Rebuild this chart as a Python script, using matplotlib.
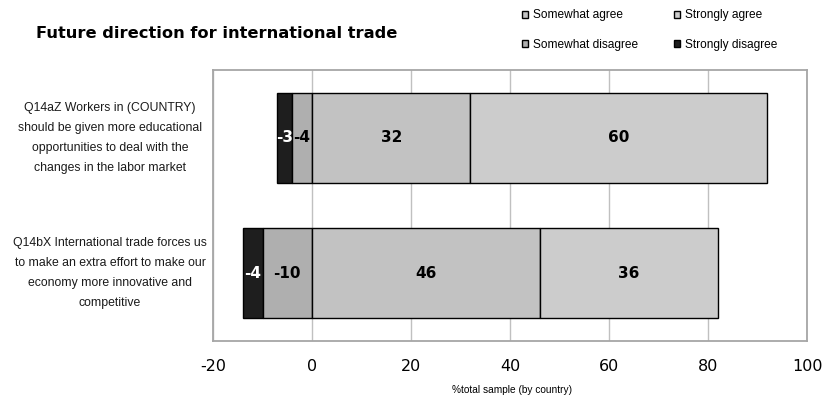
import matplotlib
matplotlib.use("Agg")
import matplotlib.pyplot as plt
from matplotlib.patches import Patch
from matplotlib import font_manager as fm

plt.rcParams['axes.unicode_minus'] = False

# ---- data ----
questions = [
    "Q14aZ Workers in (COUNTRY)\nshould be given more educational\nopportunities to deal with the\nchanges in the labor market",
    "Q14bX International trade forces us\nto make an extra effort to make our\neconomy more innovative and\ncompetitive",
]
strongly_disagree = [-3, -4]
somewhat_disagree = [-4, -10]
somewhat_agree = [32, 46]
strongly_agree = [60, 36]
series_names = ["Somewhat agree", "Strongly agree", "Somewhat disagree", "Strongly disagree"]
x_ticks = [-20, 0, 20, 40, 60, 80, 100]

title = "Future direction for international trade"
xlabel = "%total sample (by country)"

# ---- fonts ----
names = {f.name for f in fm.fontManager.ttflist}
if "Liberation Sans Narrow" in names:
    narrow = "Liberation Sans Narrow"
    nscale = 1.0
else:
    narrow = "Liberation Sans"
    nscale = 0.86

c_sd = "#1e1e1e"
c_swd = "#afafaf"
c_sa = "#c2c2c2"
c_sta = "#cccccc"

fig = plt.figure(figsize=(8.24, 4.04), dpi=100)
ax = fig.add_axes([213/824, 1-341/404, 594/824, 271/404])

ypos = [1, 0]
h = 0.667
for i, y in enumerate(ypos):
    sd, swd, sa, sta = strongly_disagree[i], somewhat_disagree[i], somewhat_agree[i], strongly_agree[i]
    ax.barh(y, -sd, left=swd + sd, height=h, color=c_sd, edgecolor="black", linewidth=1.0, zorder=3)
    ax.barh(y, -swd, left=swd, height=h, color=c_swd, edgecolor="black", linewidth=1.0, zorder=3)
    ax.barh(y, sa, left=0, height=h, color=c_sa, edgecolor="black", linewidth=1.0, zorder=3)
    ax.barh(y, sta, left=sa, height=h, color=c_sta, edgecolor="black", linewidth=1.0, zorder=3)
    lab = dict(ha="center", va="center", fontsize=11, fontweight="bold", family="DejaVu Sans", zorder=5)
    ax.text(swd + sd / 2, y, f"{sd}", color="white", **lab)
    ax.text(swd / 2, y, f"{swd}", color="black", **lab)
    ax.text(sa / 2, y, f"{sa}", color="black", **lab)
    ax.text(sa + sta / 2, y, f"{sta}", color="black", **lab)

ax.set_xlim(-20, 100)
ax.set_ylim(-0.5, 1.5)
ax.set_xticks(x_ticks)
ax.set_xticklabels([str(t) for t in x_ticks], fontsize=11.5, family="DejaVu Sans")
ax.tick_params(axis="x", length=0, pad=13)
ax.set_yticks([])
ax.grid(axis="x", color="#c0c0c0", linewidth=1.0, zorder=0)
ax.set_axisbelow(True)
for s in ax.spines.values():
    s.set_color("#a6a6a6")
    s.set_linewidth(1.3)

for y, q in zip(ypos, questions):
    ax.text(-0.1734, y, q, transform=ax.get_yaxis_transform(), ha="center", va="center",
            fontsize=10.3 * nscale, family=narrow, linespacing=1.9, color="#1a1a1a")

fig.text(512/824, 1-390/404, xlabel, ha="center", va="center", fontsize=8.5 * nscale, family=narrow)
fig.text(36/824, 1-38/404, title, ha="left", va="baseline", fontsize=11.7, fontweight="bold", family="DejaVu Sans")

colors = {"Somewhat agree": c_sa, "Strongly agree": c_sta, "Somewhat disagree": c_swd, "Strongly disagree": c_sd}
order = ["Somewhat agree", "Somewhat disagree", "Strongly agree", "Strongly disagree"]
handles = [Patch(facecolor=colors[n], edgecolor="black", linewidth=1.0, label=n) for n in order]
fig.legend(handles=handles, ncol=2, frameon=False, loc="upper left",
           bbox_to_anchor=(514/824, 1 - 1/404),
           prop={"family": narrow, "size": 10 * nscale},
           handlelength=0.5, handleheight=0.5, handletextpad=0.4,
           columnspacing=3.0, labelspacing=1.45, borderpad=0.2)

fig.savefig("out.png", dpi=100)
